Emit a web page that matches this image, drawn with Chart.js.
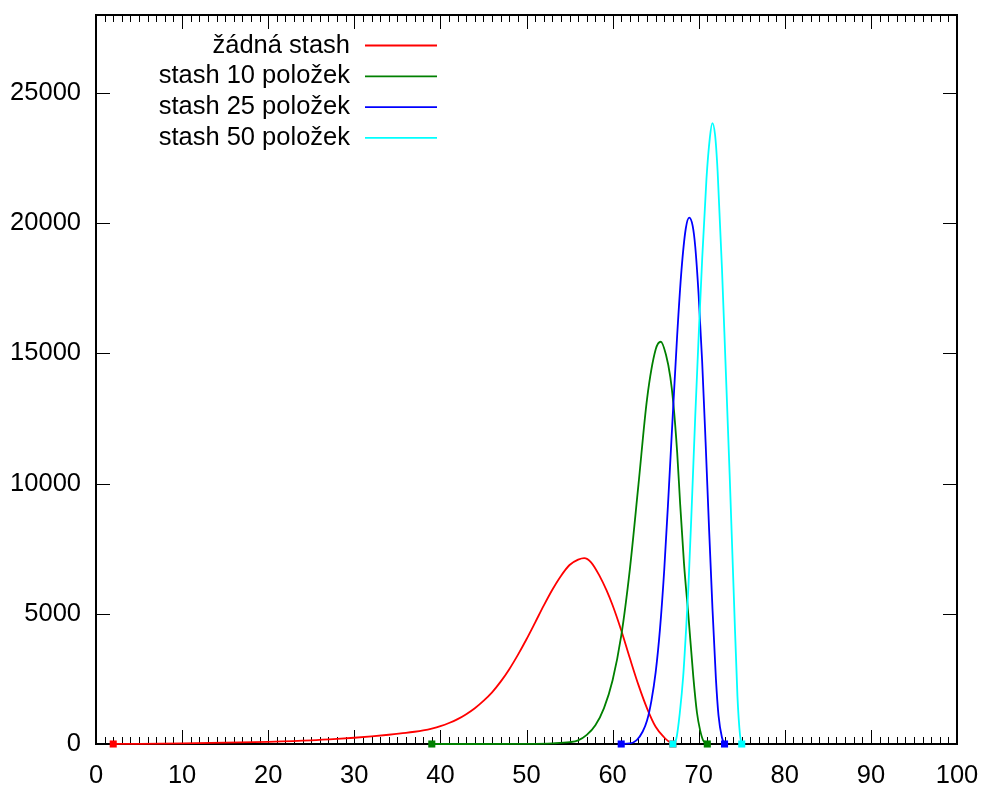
<!DOCTYPE html>
<html>
<head>
<meta charset="utf-8">
<script src="https://cdn.jsdelivr.net/npm/chart.js@4/dist/chart.umd.min.js"></script>
<style>
  html, body { margin: 0; padding: 0; background: #fff; }
  #c { display: block; }
</style>
</head>
<body>
<canvas id="c" width="981" height="785"></canvas>
<script>
// ---- data ----
const seriesLabels = ['žádná stash', 'stash 10 položek', 'stash 25 položek', 'stash 50 položek'];
const seriesColors = ['#ff0000', '#008000', '#0000ff', '#00ffff'];

const redX = [2, 5, 10, 15, 20, 25, 28, 30, 32, 34, 36, 37, 38, 39, 40, 41, 42, 43, 44, 45, 46, 47, 48, 49, 50, 51, 52, 53, 54, 55, 56, 56.7, 57.5, 58.5, 59.3, 60, 61, 62, 63, 64, 65, 66, 66.5, 67];
const redY = [0, 8, 25, 50, 85, 140, 195, 240, 295, 355, 425, 470, 525, 595, 685, 805, 955, 1145, 1375, 1655, 1985, 2395, 2875, 3425, 4025, 4665, 5315, 5925, 6455, 6875, 7080, 7140, 6980, 6450, 5900, 5330, 4370, 3300, 2270, 1370, 660, 250, 100, 0];

const greenX = [39, 45, 50, 53, 55, 56, 57, 58, 59, 60, 61, 62, 63, 64, 65, 65.6, 66.2, 66.7, 67.05, 67.5, 67.85, 68.3, 68.8, 69.37, 69.8, 70.15, 70.5, 71];
const greenY = [0, 0, 5, 25, 70, 140, 350, 720, 1380, 2450, 4150, 6700, 9950, 13250, 15150, 15450, 14950, 14100, 13100, 11200, 9200, 6900, 4950, 2600, 1200, 550, 150, 0];

const blueX = [61, 62, 62.8, 63.5, 64, 64.5, 65, 65.5, 66, 66.5, 67, 67.5, 68, 68.5, 68.9, 69.3, 69.6, 70, 70.4, 70.8, 71.2, 71.6, 72, 72.3, 72.7, 73];
const blueY = [0, 20, 150, 480, 900, 1650, 2750, 4400, 6700, 9600, 12700, 15700, 18200, 19800, 20220, 19900, 19100, 17200, 14700, 11600, 8300, 5200, 2500, 1100, 250, 0];

const cyanX = [67, 67.4, 67.8, 68.2, 68.5, 68.8, 69.2, 69.6, 70.0, 70.4, 70.9, 71.3, 71.58, 71.9, 72.2, 72.7, 73.1, 73.6, 74.1, 74.5, 74.8, 75];
const cyanY = [0, 200, 1180, 2600, 4200, 6000, 9200, 12600, 15700, 18600, 21700, 23300, 23850, 23400, 21980, 18280, 14760, 10300, 5500, 1840, 340, 0];

const xTickValues = [0, 10, 20, 30, 40, 50, 60, 70, 80, 90, 100];
const yTickValues = [0, 5000, 10000, 15000, 20000, 25000];

// ---- build chart ----
const FONT = "'Liberation Sans', Arial, sans-serif";
const FONT_SIZE = 25.5;
const seriesX = [redX, greenX, blueX, cyanX];
const seriesY = [redY, greenY, blueY, cyanY];

const datasets = seriesLabels.map((lab, i) => ({
  label: lab,
  data: seriesX[i].map((x, j) => ({ x: x, y: seriesY[i][j] })),
  borderColor: seriesColors[i],
  backgroundColor: seriesColors[i],
  borderWidth: 1.8,
  fill: false,
  clip: false,
  cubicInterpolationMode: 'monotone',
  pointStyle: 'rect',
  pointBorderWidth: 0,
  pointRadius: (ctx) => (ctx.dataIndex === 0 || ctx.dataIndex === ctx.dataset.data.length - 1) ? 5 : 0,
  pointHoverRadius: 0,
  order: seriesLabels.length - i
}));

const frameAndTicks = {
  id: 'frameAndTicks',
  beforeDatasetsDraw(chart) {
    const ctx = chart.ctx;
    const a = chart.chartArea;
    const xs = chart.scales.x, ys = chart.scales.y;
    ctx.save();
    ctx.strokeStyle = '#000';
    ctx.lineWidth = 1;
    ctx.beginPath();
    xs.ticks.forEach(t => {
      const px = Math.round(xs.getPixelForValue(t.value)) + 0.5;
      ctx.moveTo(px, a.bottom); ctx.lineTo(px, a.bottom - 14);
      ctx.moveTo(px, a.top); ctx.lineTo(px, a.top + 14);
    });
    for (let v = xs.min; v <= xs.max; v += 1) {
      if (v % 10 === 0) continue;
      const px = Math.round(xs.getPixelForValue(v)) + 0.5;
      ctx.moveTo(px, a.bottom); ctx.lineTo(px, a.bottom - 7);
      ctx.moveTo(px, a.top); ctx.lineTo(px, a.top + 7);
    }
    ys.ticks.forEach(t => {
      const py = Math.round(ys.getPixelForValue(t.value)) + 0.5;
      ctx.moveTo(a.left, py); ctx.lineTo(a.left + 14, py);
      ctx.moveTo(a.right, py); ctx.lineTo(a.right - 14, py);
    });
    ctx.stroke();
    ctx.lineWidth = 2;
    ctx.strokeRect(a.left, a.top, a.right - a.left, a.bottom - a.top);
    ctx.restore();
  }
};

const keyLegend = {
  id: 'keyLegend',
  afterDraw(chart) {
    const ctx = chart.ctx;
    ctx.save();
    ctx.font = FONT_SIZE + 'px ' + FONT;
    ctx.textAlign = 'right';
    ctx.textBaseline = 'middle';
    chart.data.datasets.forEach((ds, i) => {
      const y = 45.5 + i * 30.8;
      ctx.fillStyle = '#000';
      ctx.fillText(ds.label, 350, y);
      ctx.strokeStyle = ds.borderColor;
      ctx.lineWidth = 1.8;
      ctx.beginPath();
      ctx.moveTo(365, y);
      ctx.lineTo(437, y);
      ctx.stroke();
    });
    ctx.restore();
  }
};

new Chart(document.getElementById('c'), {
  type: 'line',
  data: { datasets: datasets },
  options: {
    responsive: false,
    devicePixelRatio: 1,
    animation: false,
    events: [],
    layout: { padding: { top: 15, right: 24, bottom: 0, left: 0 } },
    plugins: { legend: { display: false }, tooltip: { enabled: false } },
    scales: {
      x: {
        type: 'linear',
        min: 0, max: 100,
        afterBuildTicks: (s) => { s.ticks = xTickValues.map(v => ({ value: v })); },
        afterFit: (s) => { s.height = 41; s.paddingLeft = 0; s.paddingRight = 0; },
        grid: { display: false, drawTicks: false },
        border: { display: false },
        ticks: {
          color: '#000',
          font: { family: FONT, size: FONT_SIZE },
          padding: 17,
          maxRotation: 0,
          autoSkip: false,
          callback: (v) => String(v)
        }
      },
      y: {
        type: 'linear',
        min: 0, max: 28000,
        afterBuildTicks: (s) => { s.ticks = yTickValues.map(v => ({ value: v })); },
        afterFit: (s) => { s.width = 96; s.paddingTop = 0; s.paddingBottom = 0; },
        grid: { display: false, drawTicks: false },
        border: { display: false },
        ticks: {
          color: '#000',
          font: { family: FONT, size: FONT_SIZE },
          padding: 15,
          autoSkip: false,
          callback: (v) => String(v)
        }
      }
    }
  },
  plugins: [frameAndTicks, keyLegend]
});
</script>
</body>
</html>
